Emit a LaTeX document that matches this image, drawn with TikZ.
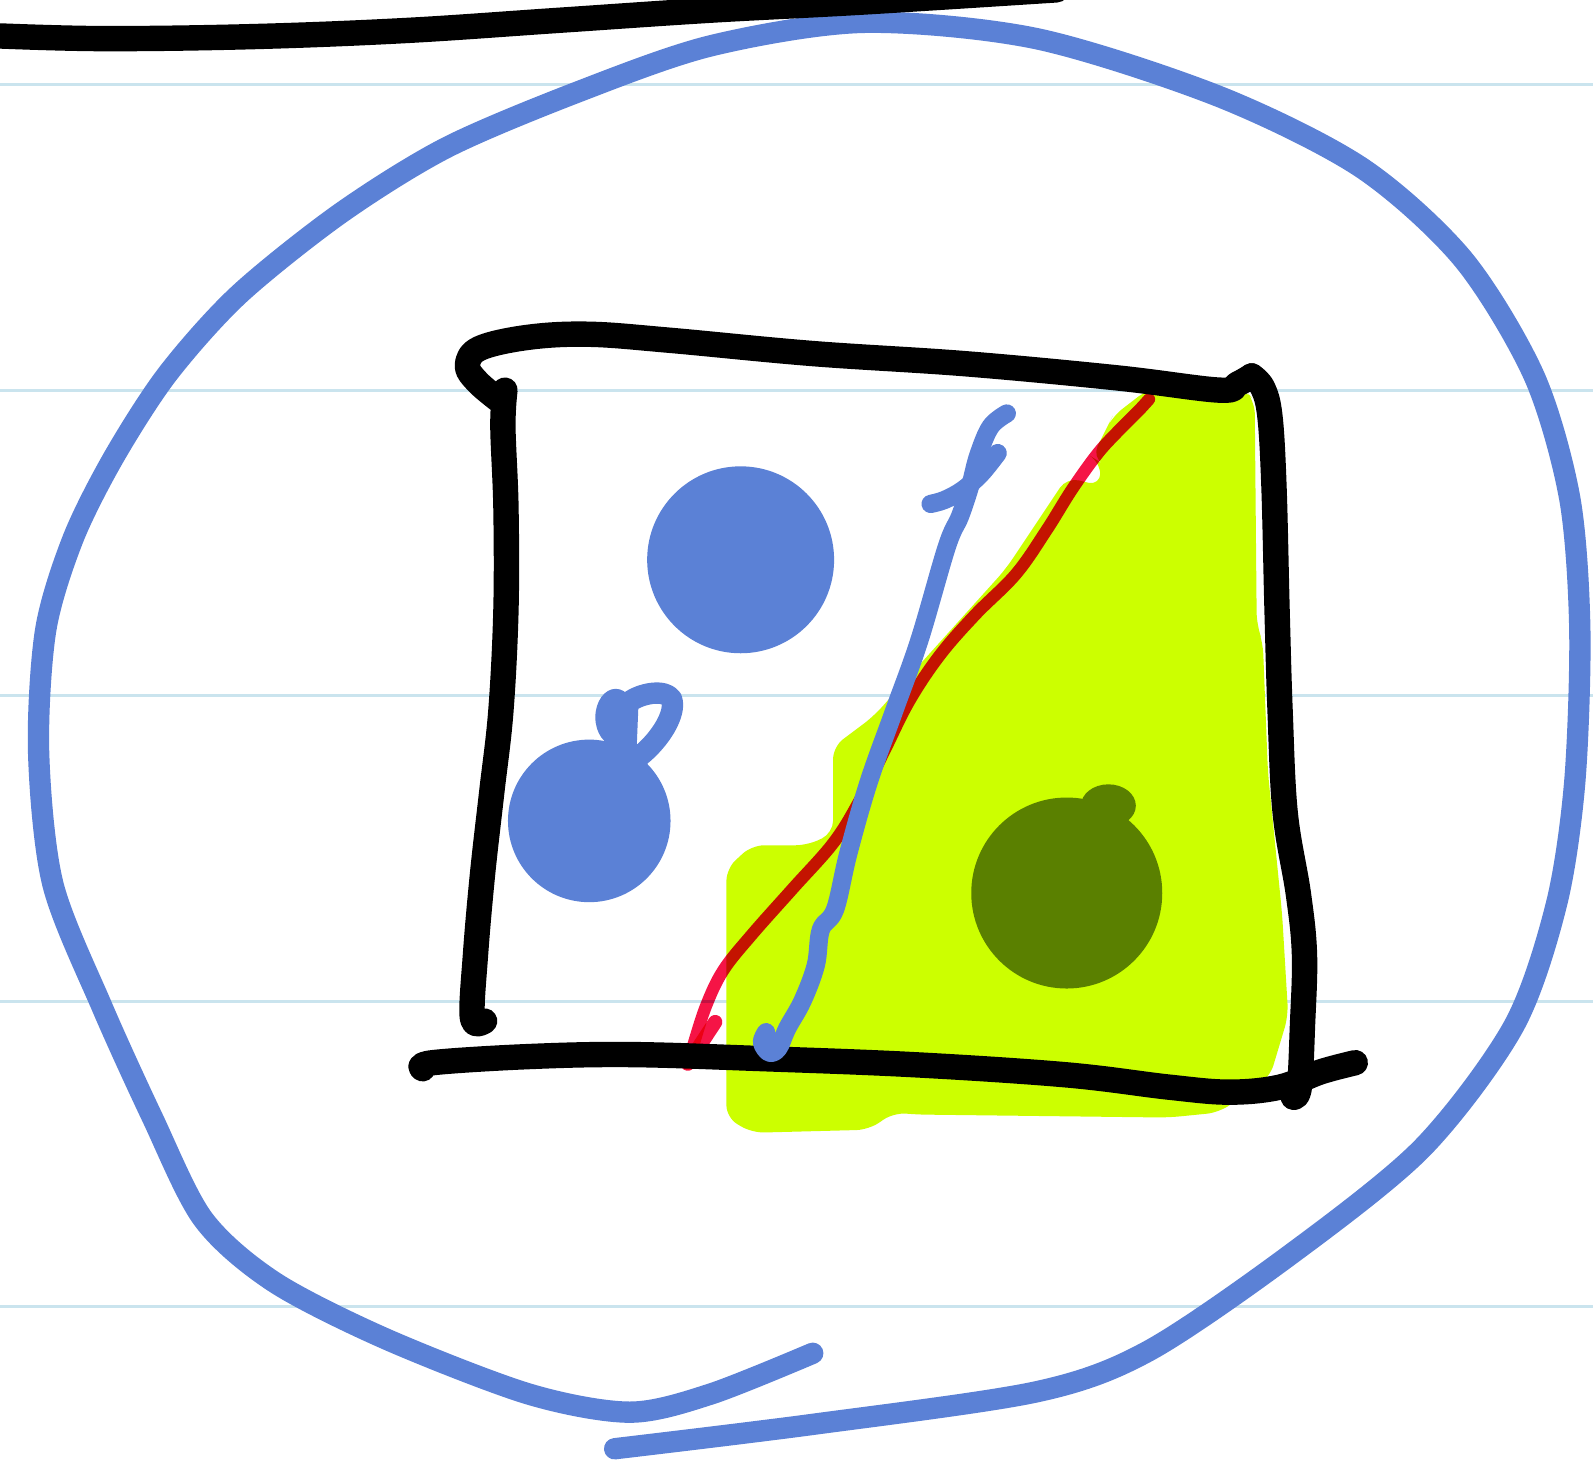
\documentclass[tikz,border=0pt]{standalone}
\usetikzlibrary{calc}
\definecolor{inkblue}{RGB}{91,129,214}
\definecolor{hlyellow}{RGB}{204,255,0}
\definecolor{dotgreen}{RGB}{90,128,0}
\definecolor{inkred}{RGB}{245,20,70}
\definecolor{rulecol}{RGB}{202,228,238}
\tikzset{
  rulestyle/.style={rulecol, line width=3pt},
  blackpen/.style={black, line width=25pt, line cap=round, line join=round},
  bluepen/.style={inkblue, line width=21pt, line cap=round, line join=round},
  fpen/.style={inkblue, line width=18pt, line cap=round, line join=round},
  redpen/.style={inkred, line width=12pt, line cap=round, line join=round},
  hlfill/.style={fill=hlyellow, rounded corners=12},
}
\begin{document}
\begin{tikzpicture}[x=1pt,y=-1pt]
\useasboundingbox (0,0) rectangle (1568,1440);
\clip (0,0) rectangle (1568,1440);
\fill[white] (0,0) rectangle (1568,1440);
% ruled lines
\foreach \yy in {83,384,685,986,1286}
  \draw[rulestyle] (0,\yy) -- (1568,\yy);
% highlight
\fill[hlfill] (1095,410) -- (1130,383) -- (1225,383) -- (1235,395) -- (1237,615) -- (1243,632)
  -- (1248,760) -- (1262,900) -- (1268,1000) -- (1250,1060) -- (1200,1095) -- (1150,1100)
  -- (900,1097) -- (880,1095) -- (855,1112) -- (740,1115) -- (715,1100) -- (715,855)
  -- (740,832) -- (795,832) -- (820,820) -- (820,735) -- (860,705) -- (900,660)
  -- (945,610) -- (990,560) -- (1030,500) -- (1050,470) -- (1083,478) -- (1083,455)
  -- (1075,450) -- (1090,420) -- cycle;
% blue dots
\fill[inkblue] (729,551) circle[radius=92];
\fill[inkblue] (580,808) circle[radius=80];
\fill[inkblue] (606,706) ellipse[x radius=20, y radius=28];
\draw[inkblue, line width=21pt, line cap=round, line join=round]
  (616,740) -- (618,692) .. controls (630,682) and (655,678) .. (661,688)
  .. controls (666,702) and (650,728) .. (630,744);
% green dot
\fill[dotgreen] (1050,879) circle[radius=94];
\fill[dotgreen] (1091,793) ellipse[x radius=27, y radius=21];
% black box
\draw[blackpen] plot[smooth, tension=0.6] coordinates {(490,393) (470,376) (460,360) (472,343) (520,332) (580,329) (660,335) (800,348) (950,358) (1100,372) (1200,384) (1218,378) (1232,370)};
\draw[blackpen] plot[smooth, tension=0.6] coordinates {(1232,370) (1243,382) (1250,410) (1254,480) (1257,600) (1260,700) (1265,800) (1278,880) (1284,940) (1282,1010) (1279,1070) (1273,1080)};
\draw[blackpen] plot[smooth, tension=0.6] coordinates {(497,384) (495,420) (498,500) (498,600) (493,700) (484,780) (475,860) (468,940) (465,1002) (477,1005)};
\draw[blackpen] plot[smooth, tension=0.6] coordinates {(416,1052) (426,1046) (520,1040) (620,1038) (750,1042) (900,1048) (1050,1058) (1150,1070) (1210,1075) (1260,1070) (1300,1055) (1334,1046)};
% red line
\begin{scope}[blend mode=multiply]
\draw[redpen] plot[smooth, tension=0.6] coordinates {(1131,393) (1120,405) (1100,425) (1080,447) (1055,482) (1030,522) (1000,565) (960,605) (925,645) (895,690) (870,740) (845,790) (820,830) (780,875) (740,920) (712,955) (695,990) (682,1030) (677,1047)};
\draw[inkred, line width=14pt, line cap=round] (677,1047) -- (704,1006);
\end{scope}
% blue f line
\draw[fpen] plot[smooth, tension=0.6] coordinates {(991,407) (975,420) (963,448) (955,478) (945,508) (932,538) (905,630) (880,700) (855,770) (835,840) (822,895) (808,915) (803,950) (790,985) (775,1012) (766,1032) (757,1036) (750,1026) (754,1016)};
\draw[fpen] plot[smooth, tension=0.6] coordinates {(982,446) (966,466) (948,482) (930,492) (916,496)};
% big blue loop
\draw[bluepen] plot[smooth, tension=0.5] coordinates {(800,1332) (700,1372) (620,1390) (520,1372) (380,1318) (270,1262) (200,1200) (150,1100) (100,990) (52,870) (38,740) (45,620) (72,530) (112,450) (165,368) (235,290) (335,210) (440,145) (570,90) (700,45) (850,22) (1020,38) (1200,95) (1340,165) (1440,255) (1510,370) (1545,490) (1555,620) (1550,770) (1532,890) (1490,1010) (1400,1130) (1270,1235) (1130,1330) (1020,1370) (800,1402) (605,1426)};
% top black line
\draw[blackpen] plot[smooth, tension=0.6] coordinates {(-10,35) (100,38) (250,36) (400,30) (550,20) (700,10) (850,2) (1040,-10)};
\end{tikzpicture}
\end{document}
